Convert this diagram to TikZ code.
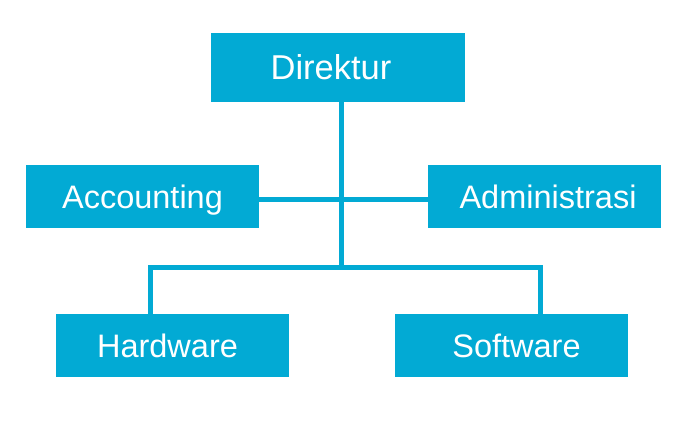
\documentclass[tikz,border=0pt]{standalone}
\usepackage{fontspec}
\setmainfont{Liberation Sans}
\usetikzlibrary{positioning, calc}
\definecolor{orgblue}{HTML}{02AAD4}

\begin{document}
\begin{tikzpicture}[
    x=1pt, y=-1pt,
    unit/.style={fill=orgblue, text=white, minimum width=233pt, minimum height=63pt, inner sep=0pt, text height=23.3pt, text depth=0pt, font=\fontsize{32.5}{38}\selectfont},
    link/.style={draw=orgblue, line width=5pt}]

\useasboundingbox (0,0) rectangle (698,432);

\node[unit, minimum width=254pt, minimum height=69pt, text height=24.7pt, font=\fontsize{34.5}{40}\selectfont] (direktur) at (338,67.5) {\hspace*{-14pt}Direktur};
\node[unit] (accounting) at (142.5,196.5) {Accounting};
\node[unit] (administrasi) at (544.5,196.5) {\hspace*{7pt}Administrasi};
\node[unit] (hardware) at (172.5,345.5) {\hspace*{-10pt}Hardware};
\node[unit] (software) at (511.5,345.5) {\hspace*{10pt}Software};

\coordinate (hub) at (341,267.5);
\coordinate (lefthw) at (150,267.5);
\coordinate (rightsw) at (540,267.5);

\draw[link] ([yshift=-3pt]accounting.east) -- ([yshift=-3pt]administrasi.west);
\draw[link] (direktur.south -| hub) -- (hub);
\draw[link] (hardware.north -| lefthw) |- (hub) -| (software.north -| rightsw);

\end{tikzpicture}
\end{document}
